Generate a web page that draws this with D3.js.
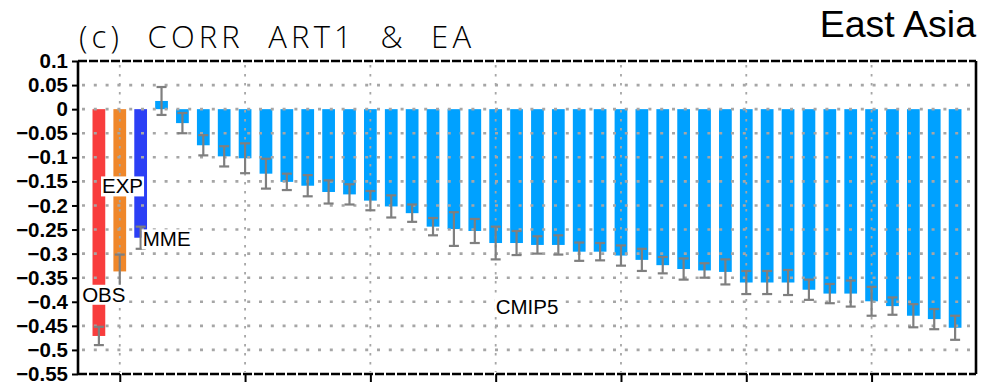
<!DOCTYPE html>
<html>
<head>
<meta charset="utf-8">
<script src="https://cdn.jsdelivr.net/npm/d3@7"></script>
<style>
  html, body { margin: 0; padding: 0; background: #fff; }
  svg { display: block; }
</style>
</head>
<body>
<svg id="chart" width="981" height="384"></svg>
<script>
// Reference groups: observation, experiment, multi-model ensemble mean
const refNames = ["OBS", "EXP", "MME"];
const refValues = [-0.471, -0.337, -0.267];
const refErrors = [0.019, 0.035, 0.023];
const refColors = ["#f83d3d", "#ef872a", "#2b3ff5"];

// CMIP5 individual models, sorted by correlation
const cmipValues = [
   0.017, -0.029, -0.075, -0.098, -0.102, -0.134, -0.151, -0.159, -0.172, -0.177,
  -0.190, -0.202, -0.216, -0.244, -0.249, -0.253, -0.278, -0.278, -0.282, -0.282,
  -0.296, -0.296, -0.304, -0.313, -0.324, -0.332, -0.335, -0.338, -0.360, -0.360,
  -0.360, -0.375, -0.383, -0.383, -0.399, -0.409, -0.429, -0.436, -0.454
];
const cmipErrors = [
  0.029, 0.021, 0.021, 0.021, 0.031, 0.031, 0.017, 0.022, 0.024, 0.021,
  0.020, 0.023, 0.018, 0.018, 0.035, 0.025, 0.034, 0.025, 0.018, 0.020,
  0.019, 0.018, 0.021, 0.023, 0.017, 0.022, 0.015, 0.026, 0.024, 0.024,
  0.026, 0.021, 0.020, 0.027, 0.030, 0.018, 0.024, 0.021, 0.025
];
const cmipColor = "#00a1ff";

const yTicks = [0.1, 0.05, 0, -0.05, -0.1, -0.15, -0.2, -0.25, -0.3, -0.35, -0.4, -0.45, -0.5, -0.55];
const xTicks = [2, 8, 14, 20, 26, 32, 38];

const titleText = "(c)  CORR  ART1  &  EA";
const regionText = "East Asia";

// one record per bar, positions 1..N along the x axis
const bars = [
  ...refNames.map((n, i) => ({ name: n, value: refValues[i], err: refErrors[i], color: refColors[i] })),
  ...cmipValues.map((v, i) => ({ name: "CMIP5", value: v, err: cmipErrors[i], color: cmipColor }))
].map((d, i) => ({ ...d, pos: i + 1 }));

const svg = d3.select("#chart");
const plotL = 78, plotR = 976, plotT = 61, plotB = 374;

const x = d3.scaleLinear().domain([0, bars.length + 1]).range([plotL, plotR]);
const y = d3.scaleLinear().domain([-0.55, 0.1]).range([plotB, plotT]);
const unit = x(1) - x(0);
const barW = unit * 0.61;

// bars grow from zero
svg.append("g").selectAll("rect").data(bars).join("rect")
  .attr("x", d => x(d.pos) - barW / 2)
  .attr("width", barW)
  .attr("y", d => y(Math.max(0, d.value)))
  .attr("height", d => Math.abs(y(d.value) - y(0)))
  .attr("fill", d => d.color);

// dotted grid, drawn over the bars
const grid = svg.append("g").attr("stroke", "#a6a6a6");
grid.selectAll("line.h").data(yTicks.filter(t => t < 0.1 && t > -0.55)).join("line")
  .attr("class", "h")
  .attr("x1", plotL + 4).attr("x2", plotR - 2)
  .attr("y1", d => y(d)).attr("y2", d => y(d))
  .attr("stroke-width", 2.6)
  .attr("stroke-dasharray", "3,8.8");
grid.selectAll("line.v").data(xTicks).join("line")
  .attr("class", "v")
  .attr("x1", d => x(d)).attr("x2", d => x(d))
  .attr("y1", plotT + 4).attr("y2", plotB - 2)
  .attr("stroke-width", 1.8)
  .attr("stroke-dasharray", "2.5,6.5");

// error bars
const eb = svg.append("g").attr("stroke", "#7f7f7f").attr("stroke-width", 2.2);
const capHalf = 5;
eb.selectAll("line.stem").data(bars).join("line")
  .attr("class", "stem")
  .attr("x1", d => x(d.pos)).attr("x2", d => x(d.pos))
  .attr("y1", d => y(d.value + d.err)).attr("y2", d => y(d.value - d.err));
eb.selectAll("line.capT").data(bars).join("line")
  .attr("class", "capT")
  .attr("x1", d => x(d.pos) - capHalf).attr("x2", d => x(d.pos) + capHalf)
  .attr("y1", d => y(d.value + d.err)).attr("y2", d => y(d.value + d.err));
eb.selectAll("line.capB").data(bars).join("line")
  .attr("class", "capB")
  .attr("x1", d => x(d.pos) - capHalf).attr("x2", d => x(d.pos) + capHalf)
  .attr("y1", d => y(d.value - d.err)).attr("y2", d => y(d.value - d.err));

// group labels on white boxes
const labelSpots = [
  { text: "OBS", px: 0.2, py: -0.4 },
  { text: "EXP", px: 1.15, py: -0.175 },
  { text: "MME", px: 3.1, py: -0.285 },
  { text: "CMIP5", px: 20, py: -0.425 }
];
const labels = svg.append("g");
labelSpots.forEach(l => {
  const g = labels.append("g");
  const box = g.append("rect").attr("fill", "#fff");
  const t = g.append("text")
    .attr("x", x(l.px)).attr("y", y(l.py))
    .attr("font-family", "Liberation Sans, Arial, sans-serif")
    .attr("font-size", 20.5)
    .attr("fill", "#000")
    .text(l.text);
  const bb = t.node().getBBox();
  box.attr("x", bb.x - 1).attr("y", bb.y + 2).attr("width", bb.width + 2).attr("height", bb.height - 3);
});

// axes
const yAxis = svg.append("g").attr("transform", `translate(${plotL},0)`)
  .call(d3.axisLeft(y).tickValues(yTicks).tickSize(6).tickPadding(4)
    .tickFormat(d => d3.format(".2~f")(d)));
yAxis.select(".domain").remove();
yAxis.selectAll(".tick line").attr("stroke", "#000").attr("stroke-width", 2);
yAxis.selectAll(".tick text")
  .attr("font-family", "Liberation Sans, Arial, sans-serif")
  .attr("font-weight", "bold")
  .attr("font-size", 20.5)
  .attr("fill", "#000");

const xAxis = svg.append("g").attr("transform", `translate(0,${plotB})`)
  .call(d3.axisBottom(x).tickValues(xTicks).tickSize(8).tickFormat(""));
xAxis.select(".domain").remove();
xAxis.selectAll(".tick line").attr("stroke", "#000").attr("stroke-width", 2);

// frame: solid sides, dashed top and bottom
const frame = svg.append("g").attr("stroke", "#000").attr("stroke-width", 2.6).attr("fill", "none");
frame.append("line").attr("x1", plotL).attr("x2", plotL).attr("y1", plotT).attr("y2", plotB);
frame.append("line").attr("x1", plotR).attr("x2", plotR).attr("y1", plotT).attr("y2", plotB);
frame.append("line").attr("x1", plotL).attr("x2", plotR).attr("y1", plotT).attr("y2", plotT)
  .attr("stroke-dasharray", "9,2");
frame.append("line").attr("x1", plotL).attr("x2", plotR).attr("y1", plotB).attr("y2", plotB)
  .attr("stroke-dasharray", "9,2");

// titles
svg.append("text")
  .attr("x", 79).attr("y", 47.5)
  .attr("font-family", "Open Sans, sans-serif")
  .attr("font-weight", 300)
  .attr("font-size", 31)
  .attr("textLength", 392)
  .attr("lengthAdjust", "spacing")
  .style("white-space", "pre")
  .attr("fill", "#000")
  .text(titleText);

svg.append("text")
  .attr("x", 976).attr("y", 37)
  .attr("text-anchor", "end")
  .attr("font-family", "Liberation Sans, Arial, sans-serif")
  .attr("font-size", 37.5)
  .attr("fill", "#000")
  .text(regionText);
</script>
</body>
</html>
